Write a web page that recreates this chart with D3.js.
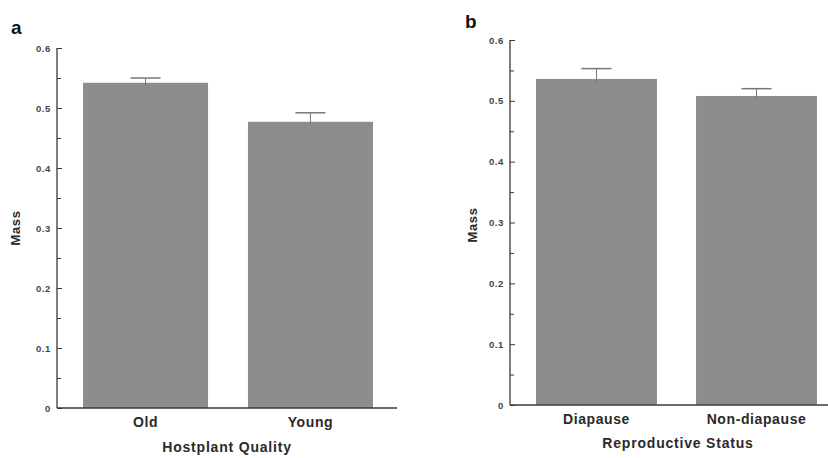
<!DOCTYPE html>
<html>
<head>
<meta charset="utf-8">
<script src="https://cdn.jsdelivr.net/npm/d3@7"></script>
<style>
  html, body { margin: 0; padding: 0; background: #fff; }
  svg { display: block; font-family: "Liberation Sans", Arial, sans-serif; }
</style>
</head>
<body>
<svg id="chart" width="828" height="458"></svg>
<script>
// Panel a: mass by hostplant quality
const categoriesA = ["Old", "Young"];
const meansA = [0.542, 0.477];
const errorsA = [0.008, 0.015];

// Panel b: mass by reproductive status
const categoriesB = ["Diapause", "Non-diapause"];
const meansB = [0.536, 0.508];
const errorsB = [0.017, 0.012];

const yTicks = [0, 0.1, 0.2, 0.3, 0.4, 0.5, 0.6];
const yMinorTicks = [0.05, 0.15, 0.25, 0.35, 0.45, 0.55];

const svg = d3.select("#chart");

const barFill = "#8d8d8d";
const axisColor = "#3a3a3a";
const textColor = "#2a2a2a";

function panel(cfg) {
  const g = svg.append("g");
  const x = d3.scaleBand()
    .domain(cfg.categories)
    .range([cfg.left, cfg.right])
    .paddingInner(cfg.padInner)
    .paddingOuter(cfg.padOuter);
  const y = d3.scaleLinear().domain([0, 0.6]).range([cfg.bottom, cfg.top]);

  const data = cfg.categories.map((c, i) => ({ c, m: cfg.means[i], e: cfg.errors[i] }));

  // bars
  g.selectAll("rect.bar").data(data).join("rect")
    .attr("class", "bar")
    .attr("x", d => x(d.c))
    .attr("width", x.bandwidth())
    .attr("y", d => y(d.m))
    .attr("height", d => y(0) - y(d.m))
    .attr("fill", barFill);

  // upper error bars
  const eb = g.selectAll("g.err").data(data).join("g").attr("class", "err");
  eb.append("line")
    .attr("x1", d => x(d.c) + x.bandwidth() / 2)
    .attr("x2", d => x(d.c) + x.bandwidth() / 2)
    .attr("y1", d => y(d.m) + 3)
    .attr("y2", d => y(d.m + d.e))
    .attr("stroke", "#777").attr("stroke-width", 1);
  eb.append("line")
    .attr("x1", d => x(d.c) + x.bandwidth() / 2 - 15)
    .attr("x2", d => x(d.c) + x.bandwidth() / 2 + 15)
    .attr("y1", d => y(d.m + d.e))
    .attr("y2", d => y(d.m + d.e))
    .attr("stroke", "#777").attr("stroke-width", 1.5);

  // y axis: major ticks with labels, minor ticks unlabeled, all pointing inward
  const yAxis = d3.axisLeft(y).tickValues(yTicks).tickSize(-5).tickPadding(6)
    .tickFormat(d => d === 0 ? "0" : d3.format(".1f")(d));
  const ya = g.append("g").attr("transform", `translate(${cfg.left},0)`).call(yAxis);
  ya.select(".domain").remove();
  ya.selectAll(".tick line").attr("stroke", axisColor);
  ya.selectAll(".tick text")
    .attr("font-size", 9.5).attr("font-weight", "bold")
    .attr("letter-spacing", 0.6).attr("fill", "#444");

  const yMinor = d3.axisLeft(y).tickValues(yMinorTicks).tickSize(-4).tickFormat("");
  const ym = g.append("g").attr("transform", `translate(${cfg.left},0)`).call(yMinor);
  ym.select(".domain").remove();
  ym.selectAll(".tick line").attr("stroke", axisColor);

  // axis lines
  g.append("line")
    .attr("x1", cfg.left).attr("x2", cfg.left)
    .attr("y1", y(0.6)).attr("y2", y(0))
    .attr("stroke", axisColor).attr("stroke-width", 1.3);
  g.append("line")
    .attr("x1", cfg.left).attr("x2", cfg.axisEnd)
    .attr("y1", y(0)).attr("y2", y(0))
    .attr("stroke", axisColor).attr("stroke-width", 1.6);

  // category labels
  const xAxis = d3.axisBottom(x).tickSize(0).tickPadding(9);
  const xa = g.append("g").attr("transform", `translate(0,${y(0)})`).call(xAxis);
  xa.select(".domain").remove();
  xa.selectAll(".tick text")
    .attr("font-size", 14).attr("font-weight", "bold")
    .attr("letter-spacing", 0.6).attr("fill", textColor);

  // axis titles
  g.append("text")
    .attr("x", cfg.titleX).attr("y", cfg.titleY)
    .attr("text-anchor", "middle")
    .attr("font-size", 14).attr("font-weight", "bold")
    .attr("letter-spacing", 0.8).attr("fill", textColor)
    .text(cfg.xTitle);

  g.append("text")
    .attr("transform", `translate(${cfg.massX},${cfg.massY}) rotate(-90)`)
    .attr("text-anchor", "middle")
    .attr("font-size", 13).attr("font-weight", "bold")
    .attr("letter-spacing", 0.6).attr("fill", textColor)
    .text("Mass");

  g.append("text")
    .attr("x", cfg.letterX).attr("y", cfg.letterY)
    .attr("font-size", 19).attr("font-weight", "bold").attr("fill", "#111")
    .text(cfg.letter);
}

panel({
  categories: categoriesA, means: meansA, errors: errorsA,
  left: 57, right: 399, axisEnd: 397, padInner: 0.242, padOuter: 0.158,
  top: 48, bottom: 408,
  xTitle: "Hostplant Quality", titleX: 227, titleY: 452,
  massX: 20, massY: 228,
  letter: "a", letterX: 11, letterY: 34
});

panel({
  categories: categoriesB, means: meansB, errors: errorsB,
  left: 510, right: 843, axisEnd: 828, padInner: 0.244, padOuter: 0.1625,
  top: 40, bottom: 405,
  xTitle: "Reproductive Status", titleX: 678, titleY: 448,
  massX: 477, massY: 225,
  letter: "b", letterX: 465, letterY: 28
});
</script>
</body>
</html>
